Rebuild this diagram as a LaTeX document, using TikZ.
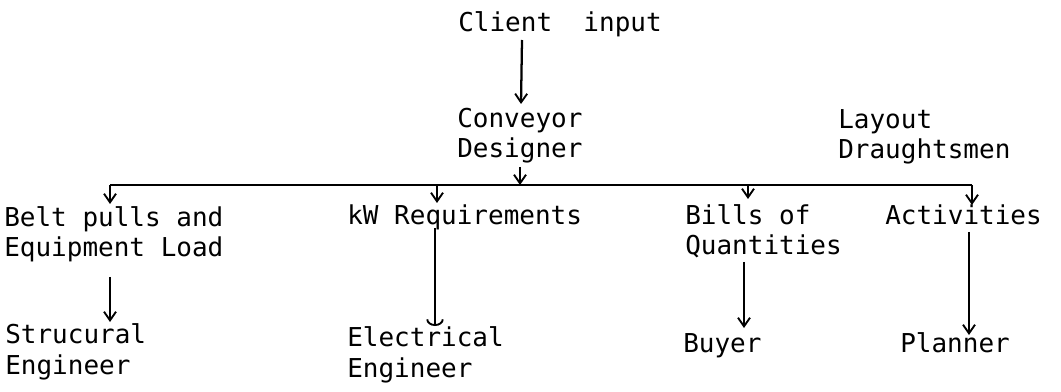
\documentclass[tikz,border=0pt]{standalone}
\usepackage{fontspec}
\newfontfamily\tw{DejaVu Sans Mono}
\usetikzlibrary{arrows.meta}
\begin{document}
\begin{tikzpicture}[x=0.75pt,y=-0.75pt,
  lbl/.style={anchor=base west, inner sep=0pt, align=left,
              font=\tw\fontsize{19.5}{23}\selectfont},
  arr/.style={line width=1.4pt, -{Straight Barb[length=6.5pt,width=9pt,line width=1.4pt]}},
  uarr/.style={line width=1.4pt, -{Arc Barb[length=5pt,width=13pt,line width=1.4pt]}},
  bus/.style={line width=1.2pt}]
\useasboundingbox (0,0) rectangle (1061,392);
% texts (base anchor of a two-line node is the baseline of its last line)
\node[lbl] (client) at (458,32) {Client\ \ input};
\node[lbl] (dsgn)   at (457,158) {Conveyor\\Designer};
\node[lbl] (layout) at (838,159) {Layout\\Draughtsmen};
\node[lbl] (belt)   at (4,257) {Belt pulls and\\Equipment Load};
\node[lbl] (kw)     at (347,225) {kW Requirements};
\node[lbl] (bills)  at (685,255) {Bills of\\Quantities};
\node[lbl] (act)    at (885,225) {Activities};
\node[lbl] (struc)  at (5,374) {Strucural\\Engineer};
\node[lbl] (elec)   at (347,377) {Electrical\\Engineer};
\node[lbl] (buyer)  at (683,352) {Buyer};
\node[lbl] (plan)   at (900,352) {Planner};
% connector points
\coordinate (cS)  at (522,40);
\coordinate (cE)  at (521,104);
\coordinate (dS)  at (520,167);
\coordinate (dE)  at (520,185);
\coordinate (busL) at (110,185);
\coordinate (busK) at (437,185);
\coordinate (busB) at (748,185);
\coordinate (busR) at (972,185);
\coordinate (beltE) at (110,204);
\coordinate (kwE)   at (437,203);
\coordinate (billsE) at (748,199);
\coordinate (actE)  at (972,205);
\coordinate (beltS) at (110,277);
\coordinate (strucE) at (110,322);
\coordinate (kwS)   at (435,228);
\coordinate (elecE) at (435,326);
\coordinate (billsS) at (744,262);
\coordinate (buyerE) at (744,328);
\coordinate (actS)  at (969,232);
\coordinate (planE) at (969,335);
% connectors
\draw[arr, line width=1.7pt] (cS) -- (cE);
\draw[arr] (dS) -- (dE);
\draw[bus] (busL) -- (busR);
\draw[arr] (busL) -- (beltE);
\draw[arr] (busK) -- (kwE);
\draw[arr] (busB) -- (billsE);
\draw[arr] (busR) -- (actE);
\draw[arr, line width=1pt] (beltS) -- (strucE);
\draw[uarr] (kwS) -- (elecE);
\draw[arr, line width=1.2pt] (billsS) -- (buyerE);
\draw[arr] (actS) -- (planE);
\end{tikzpicture}
\end{document}
